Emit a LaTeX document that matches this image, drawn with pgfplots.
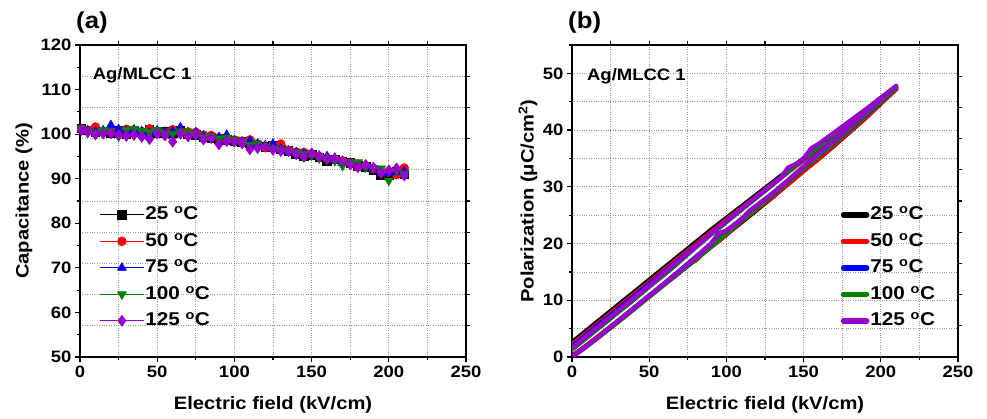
\documentclass[border=0pt]{standalone}
\usepackage{pgfplots}
\pgfplotsset{compat=1.18}
\usepackage{pgfplotstable}
\usepackage{fontspec}
\setmainfont{Liberation Sans}[FakeStretch=1.12]
\definecolor{cblack}{RGB}{0,0,0}
\definecolor{cred}{RGB}{255,0,0}
\definecolor{cblue}{RGB}{0,0,255}
\definecolor{cgreen}{RGB}{0,128,0}
\definecolor{cpurple}{RGB}{153,0,204}
\definecolor{gridgray}{RGB}{150,150,150}

\pgfplotstableread{
x c25 c50 c75 c100 c125
1 101.3 101.2 101.0 101.1 100.9
5 100.8 100.9 100.8 100.6 100.4
10 100.5 101.6 100.6 100.3 99.9
15 100.6 100.7 100.8 100.9 100.1
20 100.3 100.9 102.0 100.6 100.2
25 100.8 100.5 101.1 99.5 99.8
30 100.1 101.1 100.7 101.0 99.6
35 100.6 100.8 101.0 101.2 99.8
40 100.4 100.6 100.6 100.7 99.4
45 100.9 101.2 100.3 100.4 98.9
50 100.2 100.7 100.8 100.9 100.1
55 100.5 100.4 100.5 100.2 99.7
60 100.3 101.0 100.6 100.0 98.3
65 100.7 100.6 101.5 100.6 100.1
70 99.9 100.5 99.7 100.5 99.5
75 99.8 100.4 100.4 99.9 99.9
80 99.3 99.8 99.6 99.4 98.8
85 99.2 99.7 99.3 99.5 99.1
90 98.9 99.2 99.3 99.0 97.7
95 98.7 98.9 99.8 99.2 98.4
100 98.4 98.7 98.6 98.8 98.3
105 98.2 98.4 98.3 98.0 97.9
110 97.9 98.7 98.5 97.6 96.6
115 97.5 97.8 97.8 97.9 96.9
120 97.2 97.0 97.5 97.2 97.2
125 97.3 97.5 97.8 96.8 96.5
130 96.6 97.8 96.7 96.5 96.2
135 96.2 96.4 96.1 96.3 96.2
140 95.5 96.0 95.9 95.8 95.5
145 95.0 95.9 95.7 95.6 94.9
150 95.4 95.6 95.7 95.3 95.7
155 94.8 95.0 95.1 94.6 95.0
160 93.9 94.6 95.0 94.5 94.4
165 94.3 94.4 94.2 94.0 94.6
170 93.9 94.0 93.6 92.9 93.9
175 93.5 93.5 93.5 93.6 93.2
180 92.9 92.6 93.0 93.7 92.6
185 92.6 92.9 92.8 92.5 93.1
190 92.0 92.3 92.4 92.4 92.5
195 90.9 91.6 91.2 92.3 91.3
200 90.9 91.5 91.3 89.6 91.9
205 91.5 90.9 91.5 91.8 92.3
210 91.0 92.4 91.6 91.1 90.7
}\capdata

\pgfplotstableread{
E P
0 0.0
10 2.0
20 4.1
30 6.3
40 8.5
50 10.7
60 12.9
70 15.0
80 17.2
90 19.4
100 21.6
110 23.8
120 26.0
130 28.2
140 30.5
150 32.8
160 35.0
170 37.3
180 39.7
190 42.1
200 44.7
210 47.4
200 45.3
190 43.2
180 41.2
170 39.1
160 37.0
150 35.0
140 32.9
130 30.8
120 28.7
110 26.6
100 24.5
90 22.4
80 20.2
70 18.0
60 15.8
50 13.6
40 11.4
30 9.2
20 7.0
10 4.8
0 2.6
}\pA

\pgfplotstableread{
E P
0 0.2
10 2.2
20 4.3
30 6.4
40 8.6
50 10.8
60 13.0
70 15.2
75 16.3
80 17.0
90 19.6
95 20.4
100 21.6
110 24.0
120 26.2
130 28.3
140 30.5
150 32.8
160 35.1
170 37.4
180 39.8
190 42.2
200 44.7
210 47.2
200 45.1
190 43.0
180 41.0
170 38.9
160 36.8
150 34.7
140 32.6
130 30.5
120 28.4
110 26.3
100 24.2
90 22.0
80 19.8
70 17.6
60 15.4
50 13.2
40 11.0
30 8.8
20 6.6
10 4.4
0 2.2
}\pB

\pgfplotstableread{
E P
0 0.1
10 2.1
20 4.2
30 6.4
40 8.6
50 10.8
60 13.0
70 15.3
80 17.6
90 19.9
100 22.1
110 24.4
115 25.6
120 26.6
130 28.6
140 31.0
150 33.3
160 35.6
170 37.8
180 40.2
190 42.6
200 45.0
210 47.5
200 45.4
190 43.3
180 41.2
170 39.1
160 37.0
150 34.9
140 32.7
130 30.5
120 28.3
110 26.1
100 23.9
90 21.7
80 19.5
70 17.3
60 15.1
50 12.9
40 10.7
30 8.5
20 6.3
10 4.1
0 1.9
}\pC

\pgfplotstableread{
E P
0 0.0
10 2.0
20 4.1
30 6.2
40 8.4
50 10.6
60 12.8
70 15.0
80 17.2
90 19.5
100 21.8
110 24.1
120 26.4
130 28.7
140 31.0
150 33.3
160 35.6
170 37.9
180 40.3
190 42.7
200 45.1
210 47.5
200 45.5
190 43.4
180 41.4
170 39.3
160 37.1
150 34.9
140 32.7
130 30.4
120 28.2
110 26.0
100 23.8
90 21.6
80 19.3
70 16.9
65 15.7
60 14.6
50 12.4
40 10.1
30 7.9
20 5.7
10 3.5
0 1.3
}\pD

\pgfplotstableread{
E P
0 0.0
10 2.1
20 4.2
30 6.4
40 8.6
50 10.8
60 13.0
70 15.2
80 17.5
90 20.0
95 21.8
100 22.3
110 24.3
115 25.8
120 26.8
130 28.9
140 31.2
150 33.6
160 36.0
170 38.3
180 40.7
190 43.1
200 45.5
210 47.8
200 45.7
190 43.6
180 41.6
170 39.6
160 37.6
155 36.8
150 35.0
145 34.0
140 33.4
135 31.5
130 30.6
120 28.4
110 26.2
100 24.0
90 21.8
80 19.4
70 17.2
60 14.9
50 12.6
40 10.4
30 8.2
20 6.0
10 3.8
0 1.6
}\pE

\pgfplotsset{
  common/.style={
    scale only axis, width=386pt, height=312pt,
    tick align=outside,
    major tick length=5pt, minor tick length=3pt,
    every tick/.style={line width=1.2pt, black},
    axis line style={line width=1.3pt, black},
    /pgf/number format/assume math mode=true,
    ticklabel style={font=\bfseries\fontsize{16.5}{16.5}\selectfont},
    label style={font=\bfseries\fontsize{18}{18}\selectfont},
  },
  overlay/.style={
    common,
    xmin=0, xmax=10, ymin=0, ymax=10,
    xtick={1,...,9}, ytick={1,...,9},
    xtick pos=right, ytick pos=right,
    xticklabels={}, yticklabels={},
    major tick length=4pt,
  },
  dgrid/.style={dotted, gridgray, line width=0.8pt},
  mylegend/.style={draw=none, fill=none,
    font=\bfseries\fontsize{18.5}{18.5}\selectfont,
    row sep=10.5pt, inner sep=0pt,
    nodes={inner sep=1pt, text height=12pt, text depth=2pt},
    cells={anchor=west}},
}

\begin{document}
\begin{tikzpicture}
% ---------------- panel (a) ----------------
\begin{axis}[overlay, at={(0pt,0pt)}, anchor=south west,
  grid=major, major grid style={dgrid}]
\end{axis}
\begin{axis}[common, at={(0pt,0pt)}, anchor=south west,
  xmin=0, xmax=250, ymin=50, ymax=120,
  xtick={0,50,...,250}, minor xtick={25,75,...,225},
  ytick={50,60,...,120}, minor ytick={55,65,...,115},
  xtick pos=left, ytick pos=left,
  xlabel={Electric field (kV/cm)},
  ylabel={Capacitance (\%)},
  xlabel style={at={(axis description cs:0.5,0)}, anchor=center, yshift=-48pt},
  ylabel style={at={(axis description cs:0,0.5)}, anchor=center, yshift=56pt},
  every axis plot/.append style={line width=0.8pt, mark size=4.3pt},
  legend style={mylegend, at={(0.05,0.482)}, anchor=north west},
  legend image code/.code={\draw[mark repeat=2,mark phase=2,#1] plot coordinates {(0pt,0pt) (22pt,0pt) (44pt,0pt)};},
]
\addplot[cblack, mark=square*] table[x=x,y=c25] {\capdata};
\addlegendentry{25 \textsuperscript{o}C}
\addplot[cred, mark=*] table[x=x,y=c50] {\capdata};
\addlegendentry{50 \textsuperscript{o}C}
\addplot[cblue, mark=triangle*, mark size=5pt] table[x=x,y=c75] {\capdata};
\addlegendentry{75 \textsuperscript{o}C}
\addplot[cgreen, mark=triangle*, mark size=5pt, mark options={rotate=180}] table[x=x,y=c100] {\capdata};
\addlegendentry{100 \textsuperscript{o}C}
\addplot[cpurple, mark=diamond*, mark size=5.3pt] table[x=x,y=c125] {\capdata};
\addlegendentry{125 \textsuperscript{o}C}
\node[anchor=west, font=\bfseries\fontsize{16.5}{16.5}\selectfont] at (axis cs:6,113.1) {Ag/MLCC 1};
\end{axis}

% ---------------- panel (b) ----------------
\begin{axis}[overlay, at={(492pt,0pt)}, anchor=south west]
\end{axis}
\begin{axis}[common, at={(492pt,0pt)}, anchor=south west,
  xmin=0, xmax=250, ymin=0, ymax=55,
  xtick={0,50,...,250}, minor xtick={25,75,...,225},
  ytick={0,10,...,50}, minor ytick={5,15,...,55},
  xtick pos=left, ytick pos=left,
  grid=both, major grid style={dgrid}, minor grid style={dgrid},
  xlabel={Electric field (kV/cm)},
  ylabel={Polarization (μC/cm\textsuperscript{2})},
  xlabel style={at={(axis description cs:0.5,0)}, anchor=center, yshift=-48pt},
  ylabel style={at={(axis description cs:0,0.5)}, anchor=center, yshift=44pt},
  every axis plot/.append style={line width=4.4pt, line join=round, line cap=round, no marks},
  legend style={mylegend, at={(0.696,0.482)}, anchor=north west},
  legend image code/.code={\draw[#1, line width=5.5pt, line cap=round] (2pt,0pt) -- (25pt,0pt);},
]
\addplot[cblack] table[x=E,y=P] {\pA};
\addlegendentry{25 \textsuperscript{o}C}
\addplot[cred] table[x=E,y=P] {\pB};
\addlegendentry{50 \textsuperscript{o}C}
\addplot[cblue] table[x=E,y=P] {\pC};
\addlegendentry{75 \textsuperscript{o}C}
\addplot[cgreen] table[x=E,y=P] {\pD};
\addlegendentry{100 \textsuperscript{o}C}
\addplot[cpurple] table[x=E,y=P] {\pE};
\addlegendentry{125 \textsuperscript{o}C}
\node[anchor=west, font=\bfseries\fontsize{16.5}{16.5}\selectfont] at (axis cs:7.5,49.5) {Ag/MLCC 1};
\end{axis}

\node[anchor=base west, inner sep=0pt, font=\bfseries\fontsize{23}{23}\selectfont] at (-4pt,328pt) {(a)};
\node[anchor=base west, inner sep=0pt, font=\bfseries\fontsize{23}{23}\selectfont] at (488pt,328pt) {(b)};

\pgfresetboundingbox
\path[use as bounding box] (-80pt,-62pt) rectangle (907pt,357pt);
\end{tikzpicture}
\end{document}
